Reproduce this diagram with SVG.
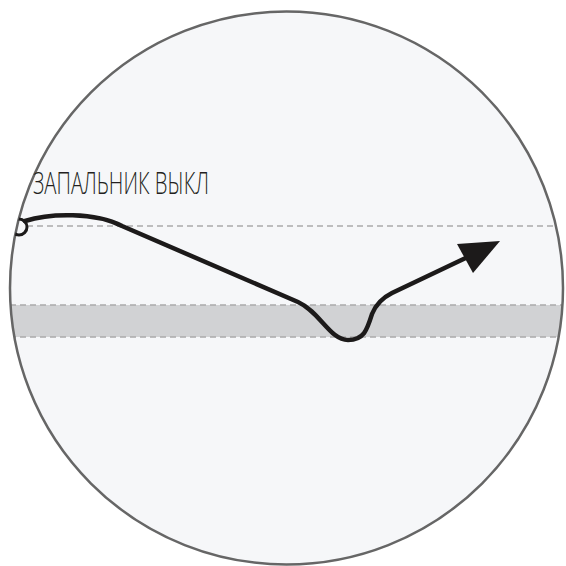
<svg xmlns="http://www.w3.org/2000/svg" width="566" height="566" viewBox="0 0 566 566">
<style>
.dash{stroke:#aaaaaa;stroke-width:1.3;stroke-dasharray:6 4;fill:none}
.curve{stroke:#1c1a1a;stroke-width:4.5;fill:none;stroke-linecap:round;stroke-linejoin:round}
.lbl{font-family:"Open Sans","Liberation Sans",sans-serif;font-weight:300;font-size:32px;fill:#231f20}
</style>
<defs>
<clipPath id="cc"><circle cx="286.5" cy="288" r="276.5"/></clipPath>
</defs>
<g id="background">
<circle cx="286.5" cy="288" r="276.5" fill="#f6f7f9"/>
<g clip-path="url(#cc)">
<rect x="0" y="305" width="566" height="32" fill="#d1d2d4"/>
<line class="dash" x1="27" y1="226" x2="566" y2="226"/>
<line class="dash" x1="0" y1="305" x2="566" y2="305"/>
<line class="dash" x1="0" y1="337" x2="566" y2="337"/>
</g>
<circle cx="286.5" cy="288" r="276.5" fill="none" stroke="#666666" stroke-width="2.5"/>
</g>
<g id="label">
<text class="lbl" x="33" y="194" textLength="176" lengthAdjust="spacingAndGlyphs">ЗАПАЛЬНИК ВЫКЛ</text>
</g>
<g id="connectors">
<circle cx="19" cy="227" r="8" fill="none" stroke="#1c1a1a" stroke-width="3" clip-path="url(#cc)"/>
<path class="curve" d="M 25 221 C 50 213, 95 212, 122 226 L 298 302 C 320 312, 330 340, 348 340 C 364 340, 367 330, 372 314 C 376 304, 382 298, 392 293 L 472 255"/>
<polygon points="500,241 457,244 473,273" fill="#1c1a1a"/>
</g>
</svg>
